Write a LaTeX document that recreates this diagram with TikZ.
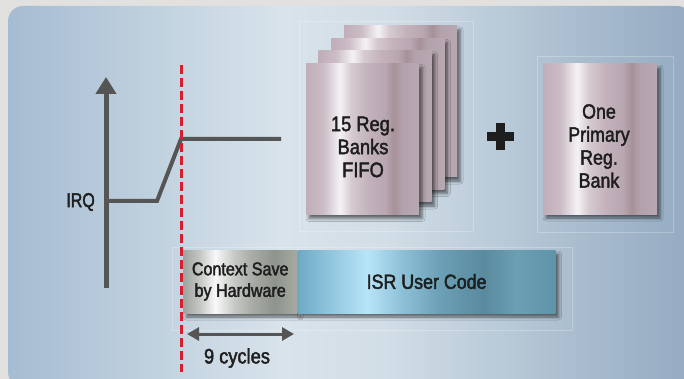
\documentclass[tikz,border=0pt]{standalone}
\usepackage{fontspec}
\setmainfont{Liberation Sans}[FakeStretch=0.87,FakeBold=2]
\newfontfamily\irqfont{Liberation Sans}[FakeStretch=0.80,FakeBold=2]
\usetikzlibrary{arrows.meta,shadows.blur}

% background
\definecolor{outerbg}{HTML}{E3E1E0}
\definecolor{pA}{HTML}{A5BCD2}
\definecolor{pB}{HTML}{C5D5E1}
\definecolor{pC}{HTML}{D8E3EB}
\definecolor{pD}{HTML}{D2DEE7}
\definecolor{pE}{HTML}{B9CAD8}
\definecolor{pF}{HTML}{93AAC1}
\pgfdeclarehorizontalshading{panelshade}{100bp}{color(0bp)=(pA); color(25bp)=(pA); color(37.5bp)=(pB); color(45bp)=(pC); color(52.5bp)=(pD); color(61bp)=(pE); color(75bp)=(pF); color(100bp)=(pF)}

% mauve cards
\definecolor{cA}{HTML}{C0AEB8}
\definecolor{cB}{HTML}{CBBCC5}
\definecolor{cC}{HTML}{F4F2F5}
\definecolor{cD}{HTML}{D6CAD1}
\definecolor{cE}{HTML}{C3B2BB}
\definecolor{cF}{HTML}{B8A6B0}
\definecolor{cG}{HTML}{A79199}
\definecolor{cH}{HTML}{B3A2AB}
\definecolor{cI}{HTML}{B8A8B1}
\pgfdeclarehorizontalshading{cardshade}{100bp}{color(0bp)=(cA); color(25bp)=(cA); color(32.5bp)=(cB); color(40bp)=(cC); color(45bp)=(cD); color(52.5bp)=(cE); color(60bp)=(cF); color(64bp)=(cG); color(67.5bp)=(cH); color(75bp)=(cI); color(100bp)=(cI)}

% grey metal
\definecolor{gA}{HTML}{9EA39F}
\definecolor{gB}{HTML}{C6C9C6}
\definecolor{gC}{HTML}{F8F8F8}
\definecolor{gD}{HTML}{C5C8C4}
\definecolor{gE}{HTML}{A8ACA6}
\definecolor{gF}{HTML}{8E958C}
\definecolor{gG}{HTML}{A5AAA3}
\pgfdeclarehorizontalshading{ctxshade}{100bp}{color(0bp)=(gA); color(25bp)=(gA); color(32.5bp)=(gB); color(39bp)=(gC); color(47.5bp)=(gD); color(55bp)=(gE); color(65bp)=(gF); color(75bp)=(gG); color(100bp)=(gG)}

% blue
\definecolor{bA}{HTML}{6EA9C4}
\definecolor{bB}{HTML}{97CBE2}
\definecolor{bC}{HTML}{B8E4F7}
\definecolor{bD}{HTML}{8FC2D8}
\definecolor{bE}{HTML}{6BA0B6}
\definecolor{bF}{HTML}{5A8A9E}
\definecolor{bG}{HTML}{6A9FB4}
\definecolor{bH}{HTML}{5E93A8}
\pgfdeclarehorizontalshading{isrshade}{100bp}{color(0bp)=(bA); color(25bp)=(bA); color(32.5bp)=(bB); color(38.5bp)=(bC); color(45bp)=(bD); color(52.5bp)=(bE); color(61bp)=(bF); color(67.5bp)=(bG); color(75bp)=(bH); color(100bp)=(bH)}

\definecolor{inkc}{HTML}{1E1E1E}
\definecolor{linec}{HTML}{555555}
\definecolor{trigred}{HTML}{D91C2E}

\tikzset{
  frame/.style={draw=white, draw opacity=0.25, line width=0.8pt},
  softshadow/.style={blur shadow={shadow xshift=3pt, shadow yshift=-4pt, shadow blur radius=3pt, shadow opacity=55}},
  bank/.style={shading=cardshade, minimum width=113pt, minimum height=151pt, inner sep=0pt, softshadow},
  lbl/.style={text=inkc, inner sep=0pt, align=center},
  ctxbox/.style={shading=ctxshade, minimum width=114pt, minimum height=63pt, inner sep=0pt, text=inkc, align=center, softshadow},
  isrbox/.style={shading=isrshade, minimum width=258pt, minimum height=63pt, inner sep=0pt, text=inkc, align=center, softshadow},
  trig/.style={draw=trigred, line width=3pt, dash pattern=on 9pt off 4pt},
  axisline/.style={draw=linec, line width=5pt},
  sigline/.style={draw=linec, line width=4pt, line join=miter},
  spanarrow/.style={draw=linec, line width=3pt, {Triangle[width=13pt,length=12pt]}-{Triangle[width=13pt,length=12pt]}},
}

\begin{document}
\begin{tikzpicture}[x=1pt,y=-1pt]
\useasboundingbox (0,0) rectangle (684,379);
\fill[outerbg] (0,0) rectangle (684,379);
\shade[shading=panelshade, rounded corners=15pt] (8,6) rectangle (692,387);

% faint frames
\draw[frame] (299,21) rectangle (473,231);
\draw[frame] (537,56) rectangle (673,232);
\draw[frame] (172,247) rectangle (572,330);

% register bank stack
\node[bank] (bank4) at (400.5,101.5) {};
\node[bank] (bank3) at (387.8,114) {};
\node[bank] (bank2) at (375.2,126.5) {};
\node[bank] (fifo) at (362.5,139) {};
\node[lbl, font=\fontsize{21}{23}\selectfont] (fifotext) at (363,147) {15 Reg.\\Banks\\FIFO};

% plus
\fill[inkc] (486.5,132.5) rectangle (513.5,141.5);
\fill[inkc] (495.5,123.5) rectangle (504.5,150.5);

% primary bank
\node[bank, minimum width=114pt, minimum height=150pt] (primary) at (600,139) {};
\node[lbl, font=\fontsize{20.5}{23}\selectfont] (primtext) at (599,146) {One\\Primary\\Reg.\\Bank};

% bottom bar
\node[ctxbox, anchor=west, font=\fontsize{18.5}{21.5}\selectfont] (ctx) at (183,281.5) {Context Save\\by Hardware};
\node[isrbox, anchor=west, font=\fontsize{20.5}{22}\selectfont] (isr) at (ctx.east) {ISR User Code};

% axis and IRQ signal
\coordinate (axb) at (106,288);
\coordinate (axt) at (106,77);
\draw[axisline, -{Triangle[width=20pt,length=17pt]}] (axb) -- (axt);
\coordinate (s0) at (106,201);
\coordinate (s1) at (157,201);
\coordinate (s2) at (181,139);
\coordinate (s3) at (281,139);
\draw[sigline] (s0) -- (s1) -- (s2) -- (s3);
\node[lbl, anchor=east, font=\irqfont\fontsize{20}{22}\selectfont] (irq) at (95,202) {IRQ};

% trigger line
\coordinate (ta) at (181,65);
\coordinate (tb) at (181,372);
\draw[trig] (ta) -- (tb);

% 9 cycles
\coordinate (ca) at (187,334);
\coordinate (cb) at (294,334);
\draw[spanarrow] (ca) -- (cb);
\node[lbl, font=\fontsize{21}{23}\selectfont] (cyc) at (237,358) {9 cycles};
\end{tikzpicture}
\end{document}
